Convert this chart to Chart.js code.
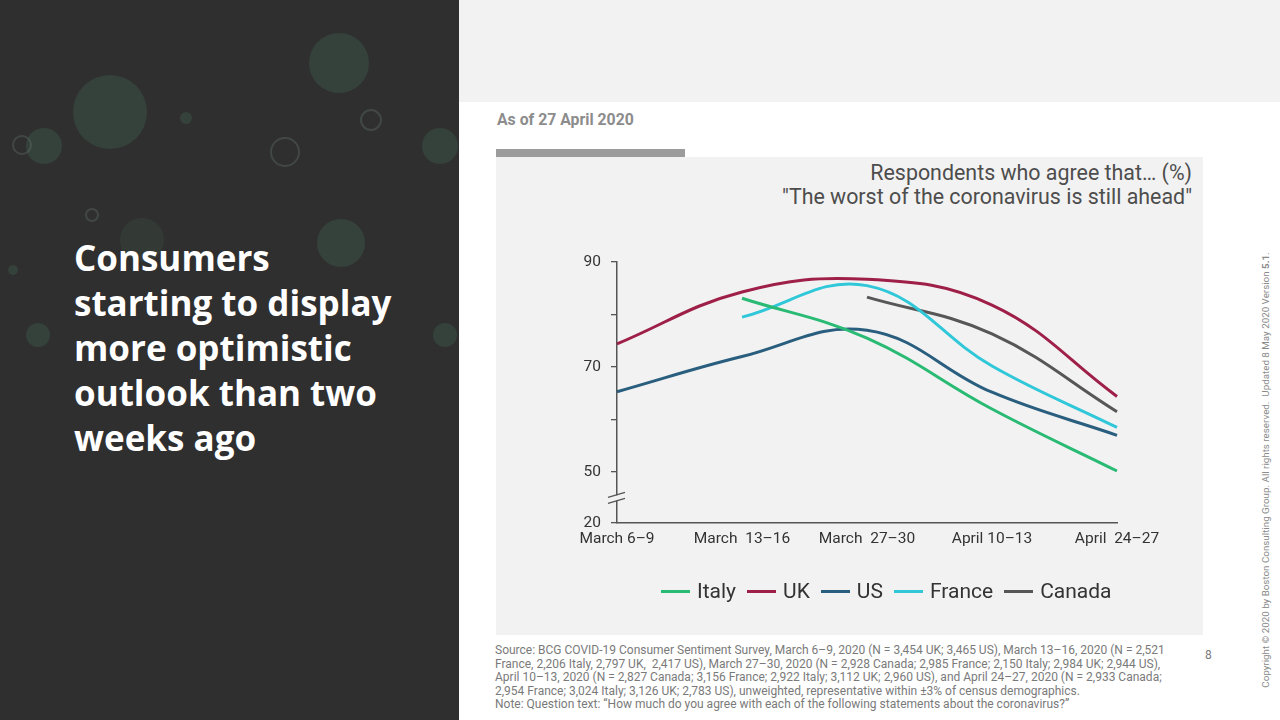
<!DOCTYPE html>
<html>
<head>
<meta charset="utf-8">
<script src="https://cdn.jsdelivr.net/npm/chart.js@4.4.1/dist/chart.umd.min.js"></script>
<style>
  html, body { margin: 0; padding: 0; }
  body { width: 1280px; height: 720px; position: relative; overflow: hidden; background: #fff; font-family: Roboto, sans-serif; }
  .side { position: absolute; left: 0; top: 0; width: 459px; height: 720px; background: #2f2f2f; overflow: hidden; }
  .dot { position: absolute; border-radius: 50%; background: rgba(70, 110, 88, 0.3); }
  .ring { position: absolute; border-radius: 50%; border: 2px solid rgba(110, 130, 120, 0.3); }
  .headline { position: absolute; left: 74px; top: 235px; color: #fff; font-family: 'Open Sans', sans-serif; font-weight: 700; font-size: 35px; line-height: 45px; }
  .topband { position: absolute; left: 459px; top: 0; width: 821px; height: 102px; background: #f2f2f2; }
  .asof { position: absolute; left: 497px; top: 110px; color: #8c8c8c; font-weight: 700; font-size: 15.8px; }
  .tab { position: absolute; left: 496px; top: 149px; width: 189px; height: 8px; background: #9c9c9c; }
  .box { position: absolute; left: 496px; top: 157px; width: 707px; height: 478px; background: #f2f2f2; }
  .ctitle { position: absolute; right: 88px; top: 161px; text-align: right; color: #4d4d4d; font-size: 21.4px; line-height: 24px; }
  .chartwrap { position: absolute; left: 496px; top: 157px; width: 707px; height: 478px; }
  #legend { position: absolute; left: 661px; top: 579px; display: flex; align-items: center; font-size: 21px; color: #333; }
  #legend .item { display: flex; align-items: center; margin-right: 11px; }
  #legend .swatch { width: 29px; height: 3px; margin-right: 7px; }
  .source { position: absolute; left: 495px; top: 644px; color: #7a7a7a; font-size: 12px; line-height: 13.5px; white-space: nowrap; }
  .page { position: absolute; left: 1205px; top: 648px; color: #7a7a7a; font-size: 12px; }
  .copy { position: absolute; left: 1265px; top: 470px; transform: translate(-50%, -50%) rotate(-90deg); white-space: nowrap; color: #8a8a8a; font-size: 9.8px; }
</style>
</head>
<body>
<div class="side">
  <div class="dot" style="left:73px;top:75px;width:74px;height:74px"></div>
  <div class="dot" style="left:309px;top:33px;width:60px;height:60px"></div>
  <div class="dot" style="left:317px;top:219px;width:48px;height:48px"></div>
  <div class="dot" style="left:26px;top:128px;width:36px;height:36px"></div>
  <div class="dot" style="left:422px;top:128px;width:36px;height:36px"></div>
  <div class="dot" style="left:120px;top:218px;width:44px;height:44px;opacity:0.6"></div>
  <div class="dot" style="left:26px;top:323px;width:24px;height:24px"></div>
  <div class="dot" style="left:433px;top:323px;width:24px;height:24px"></div>
  <div class="dot" style="left:180px;top:112px;width:12px;height:12px"></div>
  <div class="dot" style="left:8px;top:265px;width:10px;height:10px"></div>
  <div class="ring" style="left:360px;top:109px;width:18px;height:18px"></div>
  <div class="ring" style="left:270px;top:137px;width:26px;height:26px"></div>
  <div class="ring" style="left:12px;top:135px;width:16px;height:16px"></div>
  <div class="ring" style="left:85px;top:208px;width:10px;height:10px"></div>
  <div class="headline">Consumers<br>starting to display<br>more optimistic<br>outlook than two<br>weeks ago</div>
</div>
<div class="topband"></div>
<div class="asof">As of 27 April 2020</div>
<div class="tab"></div>
<div class="box"></div>
<div class="ctitle">Respondents who agree that… (%)<br>"The worst of the coronavirus is still ahead"</div>
<div class="chartwrap"><canvas id="chart"></canvas></div>
<div id="legend"></div>
<div class="source">
Source: BCG COVID-19 Consumer Sentiment Survey, March 6–9, 2020 (N = 3,454 UK; 3,465 US), March 13–16, 2020 (N = 2,521<br>
France, 2,206 Italy, 2,797 UK,&nbsp; 2,417 US), March 27–30, 2020 (N = 2,928 Canada; 2,985 France; 2,150 Italy; 2,984 UK; 2,944 US),<br>
April 10–13, 2020 (N = 2,827 Canada; 3,156 France; 2,922 Italy; 3,112 UK; 2,960 US), and April 24–27, 2020 (N = 2,933 Canada;<br>
2,954 France; 3,024 Italy; 3,126 UK; 2,783 US), unweighted, representative within ±3% of census demographics.<br>
Note: Question text: “How much do you agree with each of the following statements about the coronavirus?”
</div>
<div class="page">8</div>
<div class="copy">Copyright © 2020 by Boston Consulting Group. All rights reserved.&nbsp; Updated 8 May 2020 Version <b>5.1</b>.</div>

<script>
const waves = ['March 6–9', 'March  13–16', 'March  27–30', 'April 10–13', 'April  24–27']

const italy = [null, 83.1, 75.5, 62.0, 50.2]
const uk = [74.4, 84.3, 86.7, 81.8, 64.4]
const us = [65.3, 72.0, 77.0, 65.2, 57.0]
const france = [null, 79.5, 85.5, 70.2, 58.5]
const canada = [null, null, 83.3, 76.3, 61.5]

// the axis is broken below 50: the bottom tick stands for 20
const yBottom = 40.3
const yBreak = 45.1
const yTicks = [yBottom, 50, 60, 70, 80, 90]
const yTickLabels = ['20', '50', '', '70', '', '90']

const series = [
  { label: 'Italy', data: italy, color: '#29ba74' },
  { label: 'UK', data: uk, color: '#9e1f48' },
  { label: 'US', data: us, color: '#295e7e' },
  { label: 'France', data: france, color: '#30c8d9' },
  { label: 'Canada', data: canada, color: '#575757' },
]

const axisBreak = {
  id: 'axisBreak',
  afterDraw(chart) {
    const ctx = chart.ctx
    const x = chart.chartArea.left
    const y = chart.scales.y.getPixelForValue(yBreak)
    ctx.save()
    ctx.fillStyle = '#f2f2f2'
    ctx.fillRect(x - 3, y - 2.5, 6, 5)
    ctx.strokeStyle = '#555'
    ctx.lineWidth = 1.3
    ctx.beginPath()
    ctx.moveTo(x - 9, y - 0.5)
    ctx.lineTo(x + 8, y - 5.5)
    ctx.moveTo(x - 9, y + 5.5)
    ctx.lineTo(x + 8, y + 0.5)
    ctx.stroke()
    ctx.restore()
  }
}

const htmlLegend = {
  id: 'htmlLegend',
  afterUpdate(chart) {
    const box = document.getElementById('legend')
    box.innerHTML = ''
    chart.options.plugins.legend.labels.generateLabels(chart).forEach(item => {
      const el = document.createElement('div')
      el.className = 'item'
      const sw = document.createElement('span')
      sw.className = 'swatch'
      sw.style.background = item.strokeStyle
      el.appendChild(sw)
      el.appendChild(document.createTextNode(item.text))
      box.appendChild(el)
    })
  }
}

const tickFont = { family: 'Roboto, sans-serif', size: 15.5 }

new Chart(document.getElementById('chart'), {
  type: 'line',
  data: {
    labels: waves,
    datasets: series.map(s => ({
      label: s.label,
      data: s.data,
      borderColor: s.color,
      backgroundColor: s.color,
      borderWidth: 3,
      tension: 0.4,
      pointRadius: 0,
      fill: false,
    }))
  },
  options: {
    responsive: true,
    maintainAspectRatio: false,
    animation: false,
    layout: { padding: { top: 105, right: 86, bottom: 72, left: 0 } },
    plugins: {
      legend: { display: false },
      tooltip: { enabled: false },
    },
    scales: {
      x: {
        offset: false,
        grid: { display: false, drawTicks: false },
        border: { display: true, color: '#555', width: 1.5 },
        ticks: { color: '#333', font: tickFont, padding: 7, maxRotation: 0, autoSkip: false },
        afterFit(scale) {
          scale.height = 40
          scale.paddingLeft = 0
          scale.paddingRight = 0
        }
      },
      y: {
        min: yBottom,
        max: 90,
        afterBuildTicks(scale) {
          scale.ticks = yTicks.map(v => ({ value: v }))
        },
        grid: { drawOnChartArea: false, drawTicks: true, tickLength: 6, color: '#555', lineWidth: 1.3 },
        border: { display: true, color: '#555', width: 1.5 },
        ticks: {
          color: '#333',
          font: tickFont,
          padding: 10,
          callback: (v, i) => yTickLabels[i]
        },
        afterFit(scale) {
          scale.width = 121
        }
      }
    }
  },
  plugins: [axisBreak, htmlLegend]
})
</script>
</body>
</html>
